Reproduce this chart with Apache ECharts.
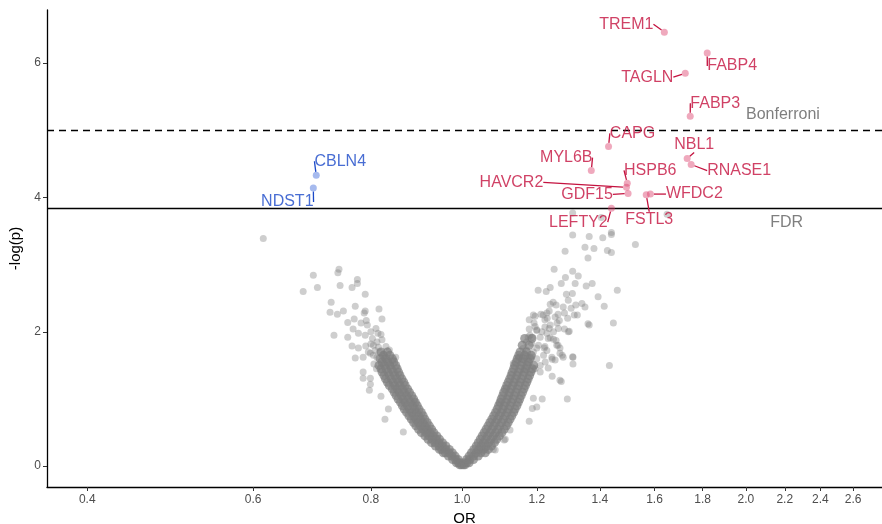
<!DOCTYPE html>
<html>
<head>
<meta charset="utf-8">
<script src="https://cdn.jsdelivr.net/npm/echarts@6/dist/echarts.min.js"></script>
<style>
  html, body { margin: 0; padding: 0; background: #fff; }
  #chart { width: 882px; height: 524px; }
</style>
</head>
<body>
<div id="chart"></div>
<script>
// x tick labels (OR, log scale) and y ticks
var orTicks = [0.4, 0.6, 0.8, 1.0, 1.2, 1.4, 1.6, 1.8, 2.0, 2.2, 2.4, 2.6];
var pTicks = [0, 2, 4, 6];

// thresholds
var bonferroni = 5.0;
var fdr = 3.84;

// dense band of the left arm: [ -log(p), [OR, ...] ]
var leftBand = [
  [0.02, [0.998, 0.994]],
  [0.05, [0.996, 0.991, 0.986]],
  [0.10, [0.990, 0.984, 0.977]],
  [0.15, [0.983, 0.975, 0.967]],
  [0.20, [0.976, 0.968, 0.960, 0.955]],
  [0.25, [0.969, 0.960, 0.951, 0.946]],
  [0.30, [0.961, 0.953, 0.945, 0.937]],
  [0.35, [0.953, 0.945, 0.936, 0.928]],
  [0.40, [0.946, 0.938, 0.929, 0.920]],
  [0.45, [0.940, 0.931, 0.922, 0.913]],
  [0.50, [0.933, 0.924, 0.915, 0.905]],
  [0.55, [0.928, 0.918, 0.909, 0.899]],
  [0.60, [0.923, 0.913, 0.903, 0.893]],
  [0.65, [0.918, 0.908, 0.898, 0.888]],
  [0.70, [0.913, 0.903, 0.893, 0.883]],
  [0.75, [0.909, 0.899, 0.888, 0.878]],
  [0.80, [0.905, 0.894, 0.884, 0.873]],
  [0.85, [0.900, 0.890, 0.879, 0.868]],
  [0.90, [0.896, 0.886, 0.875, 0.864]],
  [0.95, [0.892, 0.881, 0.870, 0.860]],
  [1.00, [0.888, 0.877, 0.866, 0.855]],
  [1.05, [0.884, 0.873, 0.862, 0.851]],
  [1.10, [0.879, 0.868, 0.857, 0.847]],
  [1.15, [0.875, 0.864, 0.853, 0.843]],
  [1.20, [0.870, 0.859, 0.848, 0.837]],
  [1.25, [0.867, 0.856, 0.845, 0.833]],
  [1.30, [0.863, 0.852, 0.841, 0.829]],
  [1.35, [0.859, 0.848, 0.837, 0.826]],
  [1.40, [0.856, 0.845, 0.834, 0.822]],
  [1.45, [0.853, 0.841, 0.830, 0.820]],
  [1.50, [0.850, 0.838, 0.827, 0.816]],
  [1.55, [0.846, 0.834, 0.822]],
  [1.60, [0.843, 0.830, 0.818]],
  [1.65, [0.838, 0.825]],
  [1.70, [0.833, 0.820]]
];

// dense band of the right arm
var rightBand = [
  [0.02, [1.003, 1.007]],
  [0.05, [1.005, 1.011, 1.017]],
  [0.10, [1.011, 1.019, 1.028]],
  [0.15, [1.017, 1.028, 1.040]],
  [0.20, [1.023, 1.035, 1.047, 1.058]],
  [0.25, [1.029, 1.041, 1.054, 1.066]],
  [0.30, [1.035, 1.047, 1.060, 1.074]],
  [0.35, [1.040, 1.053, 1.067, 1.082]],
  [0.40, [1.045, 1.059, 1.073, 1.088]],
  [0.45, [1.050, 1.064, 1.079, 1.095]],
  [0.50, [1.055, 1.070, 1.085, 1.102]],
  [0.55, [1.060, 1.075, 1.091, 1.108]],
  [0.60, [1.065, 1.080, 1.096, 1.114]],
  [0.65, [1.070, 1.085, 1.101, 1.119]],
  [0.70, [1.075, 1.090, 1.106, 1.124]],
  [0.75, [1.080, 1.095, 1.111, 1.129]],
  [0.80, [1.085, 1.100, 1.116, 1.134]],
  [0.85, [1.089, 1.104, 1.120, 1.138]],
  [0.90, [1.093, 1.108, 1.124, 1.143]],
  [0.95, [1.097, 1.112, 1.128, 1.147]],
  [1.00, [1.100, 1.116, 1.132, 1.151]],
  [1.05, [1.104, 1.120, 1.136, 1.155]],
  [1.10, [1.107, 1.123, 1.140, 1.159]],
  [1.15, [1.111, 1.127, 1.144, 1.163]],
  [1.20, [1.115, 1.131, 1.148, 1.167]],
  [1.25, [1.119, 1.135, 1.152, 1.171]],
  [1.30, [1.123, 1.139, 1.156, 1.175]],
  [1.35, [1.127, 1.143, 1.160, 1.179]],
  [1.40, [1.130, 1.147, 1.164, 1.183]],
  [1.45, [1.134, 1.151, 1.168, 1.187]],
  [1.50, [1.137, 1.154, 1.172, 1.191]],
  [1.55, [1.141, 1.158, 1.176]],
  [1.60, [1.144, 1.161, 1.180]],
  [1.65, [1.148, 1.165, 1.184]],
  [1.70, [1.152, 1.170]],
  [1.80, [1.158, 1.178]],
  [1.90, [1.165, 1.186]]
];

// scattered non-significant proteins [OR, -log(p)]
var leftScatter = [
  [0.615, 3.39],
  [0.740, 2.93], [0.738, 2.88], [0.695, 2.84], [0.678, 2.60], [0.702, 2.66], [0.742, 2.69],
  [0.764, 2.66], [0.774, 2.78], [0.774, 2.72], [0.789, 2.56], [0.726, 2.44], [0.770, 2.38],
  [0.724, 2.29], [0.737, 2.26], [0.748, 2.31], [0.789, 2.31], [0.787, 2.28], [0.816, 2.34],
  [0.822, 2.19], [0.756, 2.14], [0.768, 2.19], [0.781, 2.13], [0.791, 2.17], [0.793, 2.10],
  [0.731, 1.95], [0.756, 1.92], [0.766, 2.04], [0.776, 1.98], [0.789, 1.95], [0.803, 1.90],
  [0.814, 1.98], [0.820, 1.96], [0.764, 1.79], [0.776, 1.76], [0.790, 1.79], [0.805, 1.80],
  [0.837, 1.73], [0.770, 1.61], [0.785, 1.62], [0.799, 1.68], [0.812, 1.62], [0.828, 1.61],
  [0.820, 1.53], [0.839, 1.50], [0.785, 1.40], [0.785, 1.31], [0.799, 1.31], [0.797, 1.13],
  [0.820, 1.04], [0.835, 0.85], [0.828, 0.70], [0.866, 0.51], [0.799, 1.22], [0.891, 0.95],
  [0.808, 1.72], [0.818, 1.70], [0.826, 1.66], [0.812, 1.85], [0.800, 1.82], [0.795, 1.70],
  [0.830, 1.78], [0.815, 1.77], [0.805, 1.65], [0.822, 1.88], [0.800, 2.00], [0.810, 2.05],
  [0.845, 1.58], [0.832, 1.55], [0.850, 1.62], [0.811, 1.45], [0.806, 1.52]
];

var rightScatter = [
  [1.650, 3.75], [1.310, 3.77], [1.405, 3.70], [1.310, 3.44], [1.364, 3.42], [1.410, 3.40],
  [1.440, 3.48], [1.440, 3.45], [1.286, 3.20], [1.350, 3.26], [1.380, 3.24], [1.426, 3.21],
  [1.440, 3.18], [1.527, 3.30], [1.360, 3.10],
  [1.252, 2.93], [1.310, 2.90], [1.328, 2.83], [1.287, 2.81], [1.318, 2.72], [1.274, 2.72],
  [1.240, 2.66], [1.204, 2.62], [1.228, 2.60], [1.374, 2.72], [1.354, 2.68], [1.309, 2.57],
  [1.290, 2.56], [1.461, 2.62], [1.394, 2.52], [1.249, 2.44], [1.280, 2.37], [1.305, 2.35],
  [1.350, 2.37], [1.340, 2.42], [1.415, 2.38], [1.325, 2.25], [1.237, 2.31], [1.219, 2.25],
  [1.264, 2.26], [1.231, 2.20], [1.261, 2.13], [1.195, 2.23], [1.364, 2.10], [1.447, 2.13],
  [1.299, 2.01], [1.284, 2.04], [1.192, 2.13], [1.200, 2.02], [1.237, 2.05], [1.187, 1.92],
  [1.258, 1.87], [1.264, 1.80], [1.234, 1.90], [1.210, 1.92], [1.222, 1.76], [1.270, 1.68],
  [1.246, 1.59], [1.311, 1.62], [1.311, 1.52], [1.433, 1.50], [1.133, 1.53], [1.158, 1.59],
  [1.172, 1.64], [1.234, 1.46], [1.246, 1.34], [1.270, 1.28], [1.113, 1.16], [1.216, 1.00],
  [1.293, 1.00], [1.200, 0.88], [1.187, 0.86], [1.178, 0.67], [1.095, 0.94], [1.124, 0.54],
  [1.108, 0.39], [1.079, 0.25], [1.147, 1.61], [1.255, 1.58], [1.277, 1.65], [1.274, 1.26],
  [1.190, 1.01], [1.111, 0.40], [1.084, 0.24],
  [1.296, 2.47], [1.240, 2.41], [1.258, 2.40], [1.320, 2.40], [1.284, 2.28], [1.230, 2.28],
  [1.212, 2.26], [1.315, 2.25], [1.190, 2.25], [1.255, 2.22], [1.294, 2.20], [1.224, 2.18],
  [1.178, 2.18], [1.268, 2.17], [1.360, 2.12], [1.178, 2.04], [1.200, 2.03], [1.265, 2.05],
  [1.296, 2.00], [1.224, 2.07], [1.175, 1.92], [1.240, 1.91], [1.250, 1.89], [1.185, 1.83],
  [1.260, 1.80], [1.270, 1.76], [1.200, 1.76], [1.224, 1.78], [1.170, 1.73], [1.245, 1.62],
  [1.280, 1.62], [1.310, 1.63], [1.150, 1.62],
  [1.160, 1.75], [1.170, 1.85], [1.180, 1.95], [1.190, 1.70], [1.200, 1.60], [1.210, 1.50],
  [1.220, 1.65], [1.230, 1.72], [1.175, 1.55], [1.165, 1.45], [1.195, 1.45], [1.185, 1.62],
  [1.205, 1.80], [1.215, 2.00], [1.230, 1.98], [1.240, 2.10], [1.250, 2.00], [1.195, 2.08],
  [1.210, 1.40], [1.225, 1.55]
];

// significant proteins
var upNames = ['TREM1', 'FABP4', 'TAGLN', 'FABP3', 'CAPG', 'NBL1', 'RNASE1', 'MYL6B',
               'HSPB6', 'HAVCR2', 'GDF15', 'WFDC2', 'FSTL3', 'LEFTY2'];
var upOR = [1.639, 1.820, 1.725, 1.746, 1.430, 1.733, 1.750, 1.371, 1.497, 1.494, 1.500, 1.584, 1.568, 1.440];
var upP = [6.46, 6.15, 5.85, 5.21, 4.76, 4.58, 4.49, 4.40, 4.21, 4.15, 4.06, 4.05, 4.04, 3.84];

var downNames = ['CBLN4', 'NDST1'];
var downOR = [0.700, 0.695];
var downP = [4.33, 4.14];

// label placement (pixel offsets of label centre from the point)
var labelOffsets = {
  TREM1: [-38, -8], FABP4: [25, 13], TAGLN: [-38, 4], FABP3: [25, -13], CAPG: [24, -13],
  NBL1: [7, -14], RNASE1: [48, 6], MYL6B: [-25, -13], HSPB6: [23, -13], HAVCR2: [-115, -5],
  GDF15: [-41, 1], WFDC2: [44, 0], FSTL3: [3, 25], LEFTY2: [-33, 14],
  CBLN4: [24, -14], NDST1: [-26, 14]
};

function bandPoints(rows) {
  var out = [];
  for (var i = 0; i < rows.length; i++) {
    for (var j = 0; j < rows[i][1].length; j++) {
      out.push([Math.log(rows[i][1][j]), rows[i][0]]);
    }
  }
  return out;
}
function listPoints(list) {
  var out = [];
  for (var i = 0; i < list.length; i++) {
    out.push([Math.log(list[i][0]), list[i][1]]);
  }
  return out;
}
var bandPts = bandPoints(leftBand).concat(bandPoints(rightBand));
var scatterPts = listPoints(leftScatter).concat(listPoints(rightScatter));

function named(names, ors, ps) {
  var out = [];
  for (var i = 0; i < names.length; i++) {
    out.push({ name: names[i], value: [Math.log(ors[i]), ps[i]] });
  }
  return out;
}
var upData = named(upNames, upOR, upP);
var downData = named(downNames, downOR, downP);

var redText = '#c4123f';
var blueText = '#1a48c8';
var fontFam = '"Liberation Sans", Arial, sans-serif';

function sigSeries(data, names, textColor, dotColor) {
  return {
    type: 'scatter',
    data: data,
    symbolSize: 7,
    z: 5,
    itemStyle: { color: dotColor },
    label: {
      show: true,
      position: 'inside',
      formatter: '{b}',
      color: textColor,
      fontSize: 16,
      fontFamily: fontFam
    },
    labelLine: { show: true, lineStyle: { color: textColor, width: 1.3, opacity: 1 } },
    labelLayout: function (p) {
      var o = labelOffsets[names[p.dataIndex]];
      return { dx: o[0], dy: o[1] };
    }
  };
}

var tickLn = orTicks.map(function (v) { return Math.log(v); });

var option = {
  animation: false,
  backgroundColor: '#fff',
  grid: { left: 47, right: 0, top: 10, bottom: 37, outerBoundsMode: 'none', containLabel: false },
  xAxis: {
    type: 'value',
    min: Math.log(0.3625),
    max: Math.log(2.79),
    name: 'OR',
    nameLocation: 'middle',
    nameGap: 22,
    nameTextStyle: { color: '#000', fontSize: 15, fontFamily: fontFam },
    axisLine: { show: true, onZero: false, lineStyle: { color: '#000', width: 1.3 } },
    axisTick: { show: true, length: 4, customValues: tickLn, lineStyle: { color: '#333' } },
    axisLabel: {
      customValues: tickLn,
      color: '#4d4d4d',
      fontSize: 12,
      margin: 7,
      fontFamily: fontFam,
      formatter: function (v) { return Math.exp(v).toFixed(1); }
    },
    splitLine: { show: false }
  },
  yAxis: {
    type: 'value',
    min: -0.31,
    max: 6.79,
    name: '-log(p)',
    nameLocation: 'middle',
    nameGap: 24,
    nameTextStyle: { color: '#000', fontSize: 15, fontFamily: fontFam },
    axisLine: { show: true, onZero: false, lineStyle: { color: '#000', width: 1.3 } },
    axisTick: { show: true, length: 4, customValues: pTicks, lineStyle: { color: '#333' } },
    axisLabel: { customValues: pTicks, color: '#4d4d4d', fontSize: 12, margin: 6, fontFamily: fontFam },
    splitLine: { show: false }
  },
  series: [
    {
      type: 'scatter',
      data: bandPts,
      symbolSize: 9,
      z: 2,
      silent: true,
      itemStyle: { color: '#7f7f7f', opacity: 0.7 },
      markLine: {
        silent: true,
        symbol: 'none',
        label: { show: false },
        data: [
          { yAxis: bonferroni, lineStyle: { color: '#000', width: 1.3, type: [7, 5] } },
          { yAxis: fdr, lineStyle: { color: '#000', width: 1.3, type: 'solid' } }
        ]
      },
      markPoint: {
        symbol: 'circle',
        symbolSize: 0,
        label: { show: true, color: '#7f7f7f', fontSize: 16, fontFamily: fontFam, position: 'inside' },
        data: [
          { coord: [Math.log(2.19), 5.24], label: { formatter: 'Bonferroni' } },
          { coord: [Math.log(2.21), 3.63], label: { formatter: 'FDR' } }
        ]
      }
    },
    {
      type: 'scatter',
      data: scatterPts,
      symbolSize: 7,
      z: 2,
      silent: true,
      itemStyle: { color: '#7f7f7f', opacity: 0.38 }
    },
    sigSeries(upData, upNames, redText, 'rgba(218, 60, 105, 0.55)'),
    sigSeries(downData, downNames, blueText, 'rgba(70, 110, 220, 0.6)')
  ]
};

var myChart = echarts.init(document.getElementById('chart'));
myChart.setOption(option);
</script>
</body>
</html>
